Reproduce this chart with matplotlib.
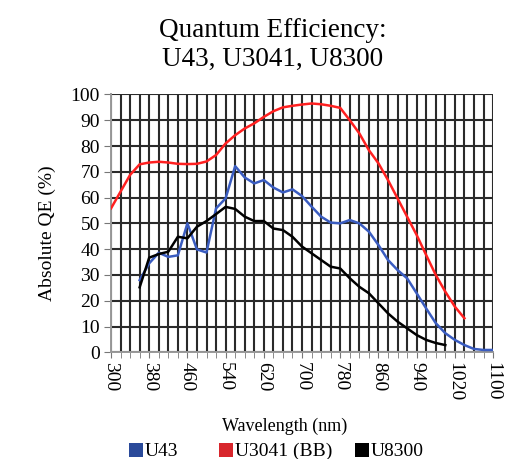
import numpy as np
import matplotlib.pyplot as plt
from matplotlib.patches import Rectangle

plt.rcParams['font.family'] = ['Liberation Serif', 'DejaVu Serif']

# wavelength grids (nm)
wl_red = [300, 320, 340, 360, 380, 400, 420, 440, 460, 480, 500, 520, 540, 560, 580,
          600, 620, 640, 660, 680, 700, 720, 740, 760, 780, 800, 820, 840, 860, 880,
          900, 920, 940, 960, 980, 1000, 1020, 1040]
qe_u3041 = [55.8, 62.3, 68.8, 72.9, 73.6, 73.9, 73.6, 73.1, 73.0, 73.1, 74.0, 76.5, 81.0,
            84.2, 86.8, 88.8, 91.3, 93.5, 95.0, 95.6, 96.1, 96.5, 96.2, 95.6, 94.8, 90.0,
            84.9, 78.4, 73.3, 66.8, 59.7, 52.6, 45.5, 37.7, 30.0, 23.5, 17.7, 13.2]

wl_blue = [360, 380, 400, 420, 440, 460, 480, 500, 520, 540, 560, 580, 600, 620, 640, 660,
           680, 700, 720, 740, 760, 780, 800, 820, 840, 860, 880, 900, 920, 940, 960, 980,
           1000, 1020, 1040, 1060, 1080, 1100]
qe_u43 = [28.0, 34.5, 38.6, 37.0, 37.6, 50.0, 39.9, 38.7, 55.8, 59.7, 72.2, 67.8, 65.5,
          66.8, 63.9, 62.0, 63.2, 60.6, 56.5, 52.6, 50.3, 50.0, 51.3, 50.0, 46.8, 41.6,
          35.8, 31.9, 28.7, 22.9, 17.0, 11.3, 7.4, 4.8, 2.8, 1.3, 0.9, 0.9]

wl_black = [360, 380, 400, 420, 440, 460, 480, 500, 520, 540, 560, 580, 600, 620, 640, 660,
            680, 700, 720, 740, 760, 780, 800, 820, 840, 860, 880, 900, 920, 940, 960, 980,
            1000]
qe_u8300 = [25.2, 36.7, 38.1, 39.0, 44.8, 44.2, 48.7, 50.9, 53.6, 56.4, 55.6, 52.6, 50.9,
            50.9, 48.0, 47.4, 44.8, 41.0, 38.4, 35.8, 33.2, 32.5, 28.7, 25.4, 22.9, 19.0,
            15.1, 11.9, 9.3, 6.7, 4.8, 3.6, 2.8]

labels = ['U43', 'U3041 (BB)', 'U8300']
legend_colors = ['#2a4a9a', '#d8262c', 'black']

W, H = 527, 459
fig = plt.figure(figsize=(W / 100, H / 100), dpi=100)
ax = fig.add_axes([0.2106, 0.2325, 0.725, 0.5617])

ax.plot(wl_red, qe_u3041, color='#ff2020', lw=1.8, zorder=3)
ax.plot(wl_blue, qe_u43, color='#3a5cc0', lw=1.8, zorder=3)
ax.plot(wl_black, qe_u8300, color='black', lw=1.8, zorder=3)

ax.set_xlim(300, 1100)
ax.set_ylim(0, 100)
ax.set_xticks(np.arange(300, 1101, 80))
ax.set_xticks(np.arange(300, 1101, 20), minor=True)
ax.set_yticks(np.arange(0, 101, 10))
ax.grid(True, which='both', axis='x', color='#2a2a2a', lw=1.5)
ax.grid(True, axis='y', color='#2a2a2a', lw=1.5)
ax.set_axisbelow(True)

for s in ['top', 'right']:
    ax.spines[s].set_visible(False)
for s in ['left', 'bottom']:
    ax.spines[s].set_color('#999999')
    ax.spines[s].set_linewidth(1.4)

ax.tick_params(axis='y', length=5, color='#777777', labelsize=14, pad=3)
ax.tick_params(axis='x', which='both', length=4, color='#777777', labelsize=14,
               labelrotation=-90, pad=3)

ax.set_ylabel('Absolute QE (%)', fontsize=14)
ax.yaxis.set_label_coords(-0.145, 0.463)

# x label and title placed where the original has them
fig.text(285 / W, 1 - 426 / H, 'Wavelength (nm)', ha='center', va='center', fontsize=13)
fig.text(273 / W, 1 - 37 / H, 'Quantum Efficiency:', ha='center', va='baseline', fontsize=19.5)
fig.text(273 / W, 1 - 66 / H, 'U43, U3041, U8300', ha='center', va='baseline', fontsize=19.5)

# legend row at the bottom
sq_x = [129, 219, 355]
for x0, lab, col in zip(sq_x, labels, legend_colors):
    fig.add_artist(Rectangle((x0 / W, 1 - 457 / H), 14 / W, 14 / H,
                             transform=fig.transFigure, color=col, lw=0))
    fig.text((x0 + 16) / W, 1 - 456 / H, lab, ha='left', va='baseline', fontsize=14)

fig.savefig('out.png', dpi=100)
